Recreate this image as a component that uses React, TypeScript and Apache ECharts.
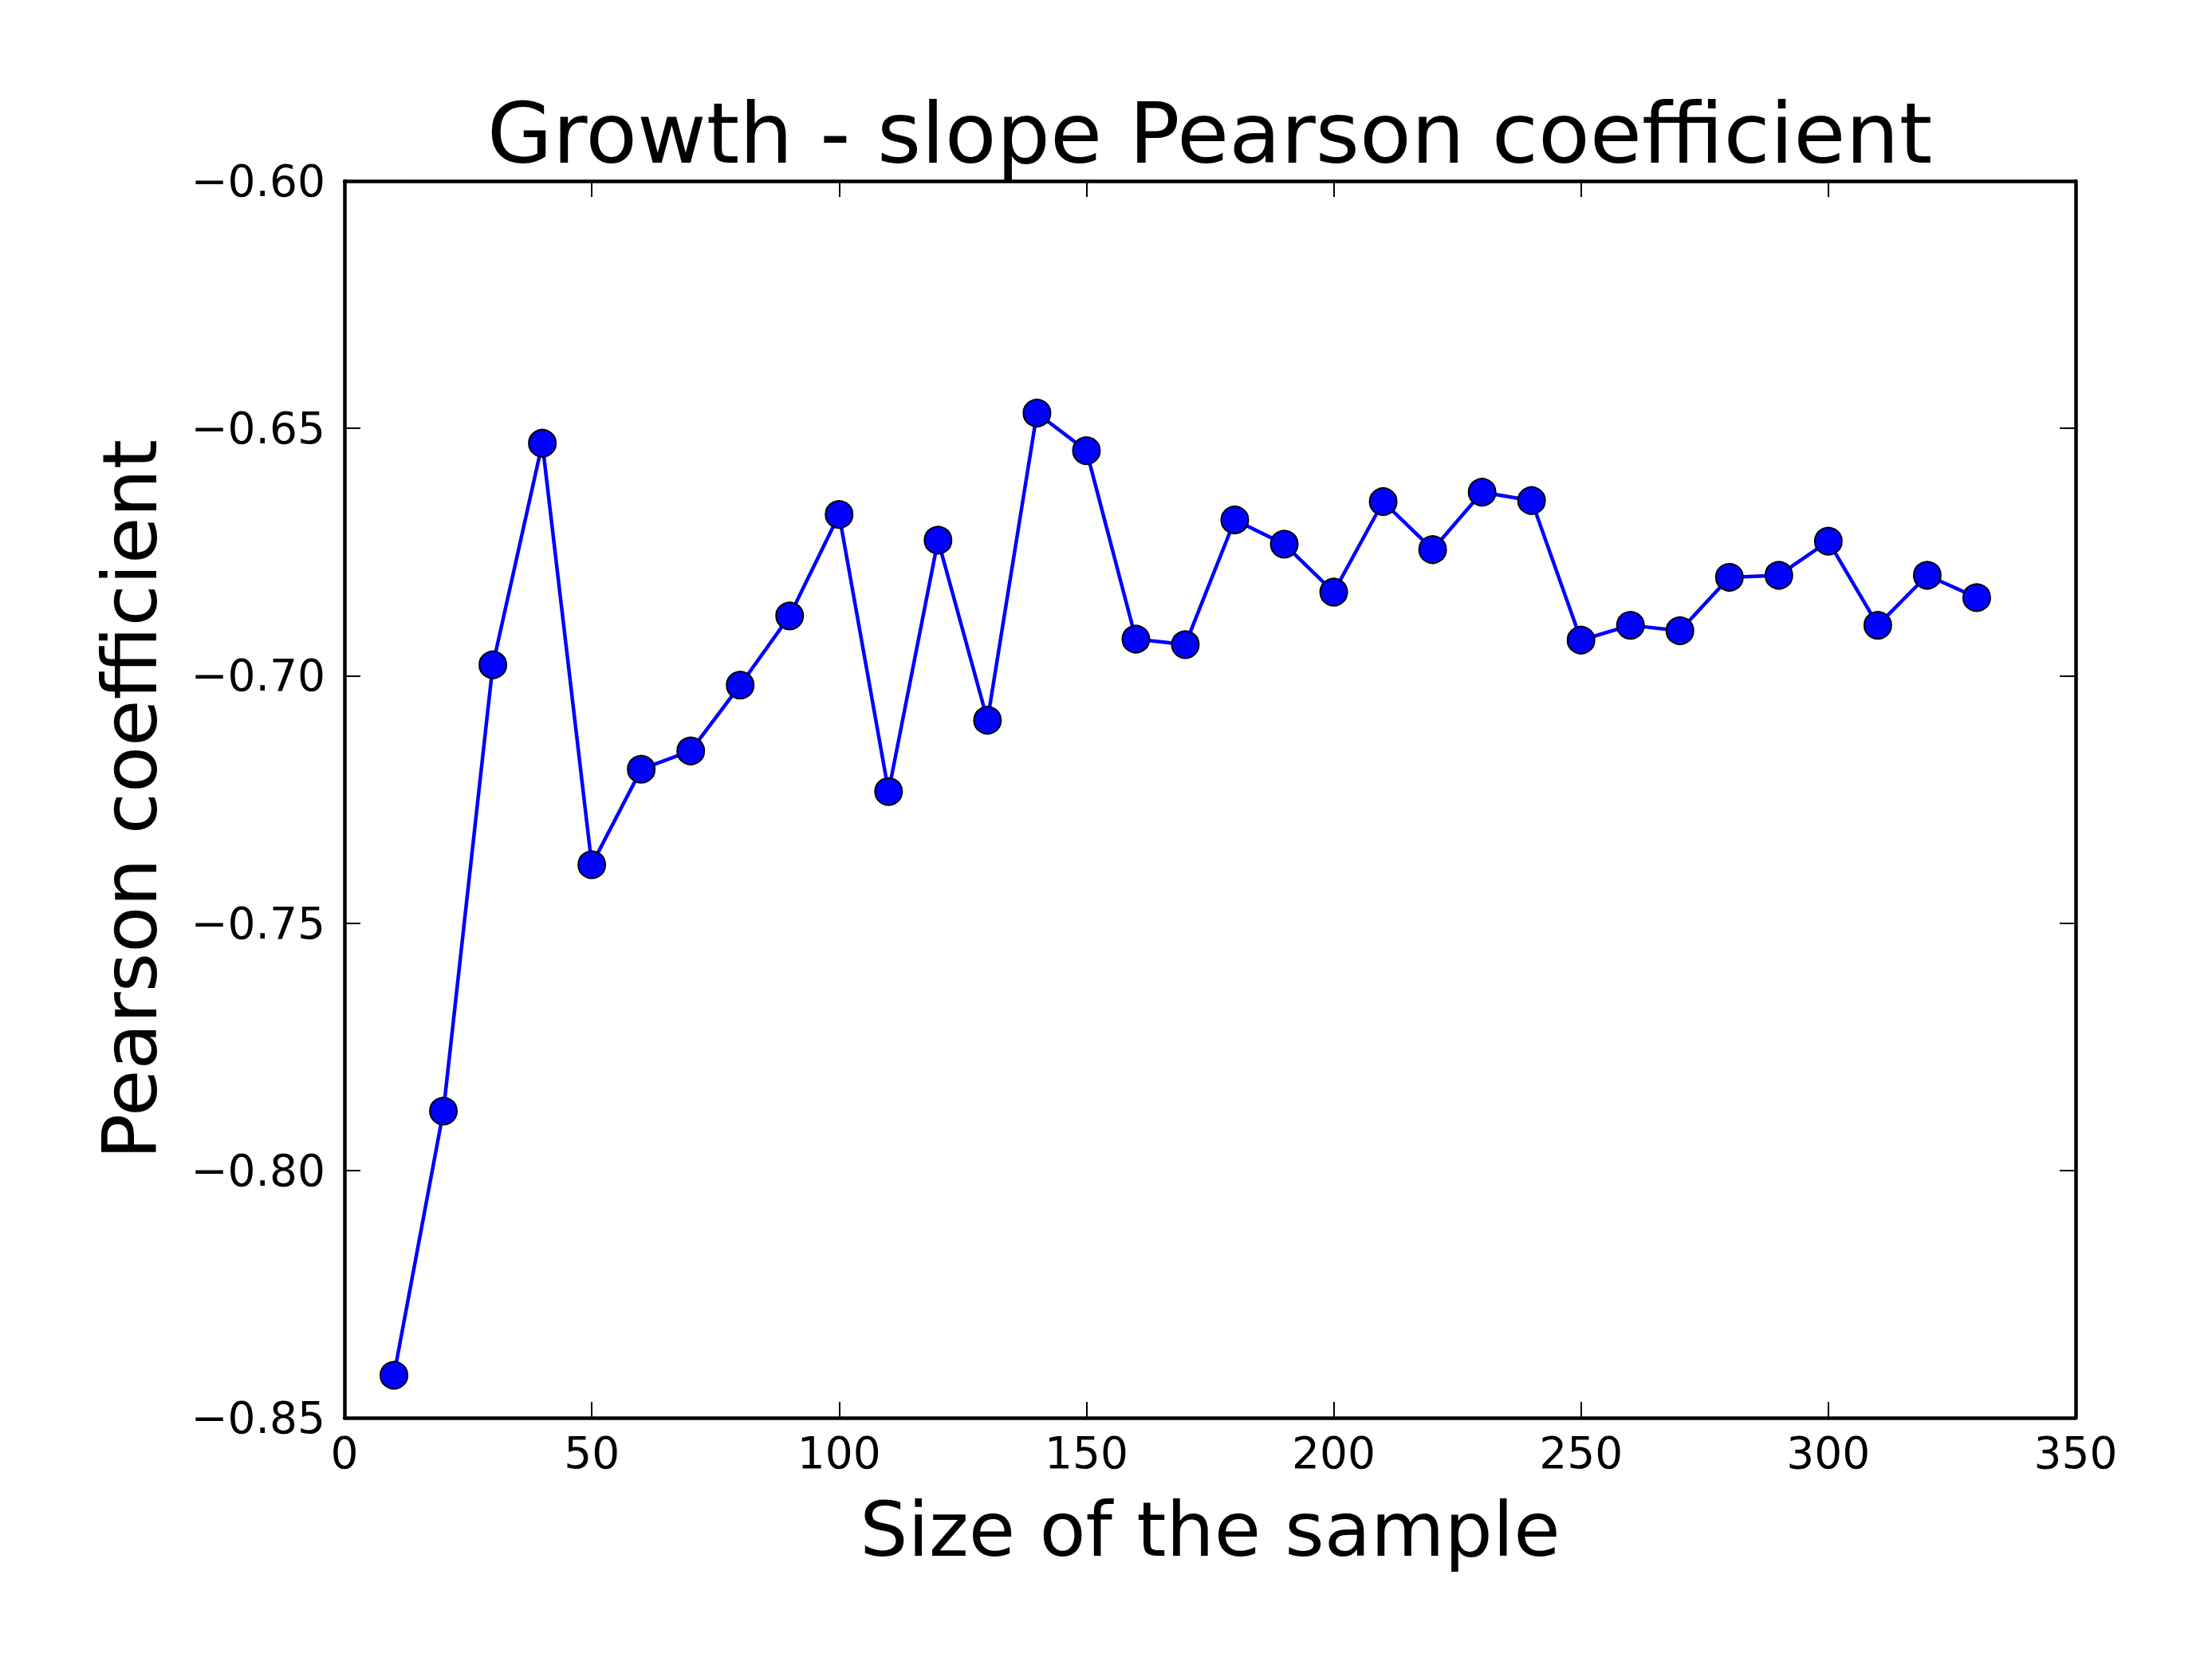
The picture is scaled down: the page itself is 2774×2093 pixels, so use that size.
import React, { useEffect, useRef } from "react";
import * as echarts from "echarts";

const sampleSizes = [10, 20, 30, 40, 50, 60, 70, 80, 90, 100, 110, 120, 130, 140, 150, 160, 170, 180, 190, 200, 210, 220, 230, 240, 250, 260, 270, 280, 290, 300, 310, 320, 330];
const pearson = [-0.8414, -0.788, -0.6978, -0.653, -0.7382, -0.7189, -0.7152, -0.7019, -0.6879, -0.6674, -0.7234, -0.6726, -0.709, -0.6469, -0.6545, -0.6926, -0.6937, -0.6685, -0.6734, -0.6831, -0.6648, -0.6745, -0.6629, -0.6646, -0.6928, -0.6898, -0.6909, -0.6801, -0.6797, -0.6728, -0.6898, -0.6797, -0.6842];

const titleText = "Growth - slope Pearson coefficient";
const xName = "Size of the sample";
const yName = "Pearson coefficient";

const FONT = "DejaVu Sans";

const fmtY = (v: number) => (v < 0 ? "\u2212" : "") + Math.abs(v).toFixed(2);

export default function App() {
  const ref = useRef<HTMLDivElement>(null);
  useEffect(() => {
    document.body.style.margin = "0";
    const chart = echarts.init(ref.current!, undefined, { renderer: "svg" });
    const tick = { show: true, inside: true, length: 20, lineStyle: { color: "#000", width: 2 } };
    const line = { show: true, onZero: false, lineStyle: { color: "#000", width: 4.5 } };
    const label = { fontFamily: FONT, fontSize: 55, color: "#000" };
    chart.setOption({
      animation: false,
      backgroundColor: "#fff",
      grid: { left: 432, right: 171, top: 227, bottom: 315, containLabel: false },
      graphic: [
        {
          type: "text",
          x: 1517,
          y: 220,
          style: {
            text: titleText,
            fontFamily: FONT,
            fontSize: 106,
            fill: "#000",
            align: "center",
            verticalAlign: "bottom",
          },
        },
      ],
      xAxis: [
        {
          type: "value",
          min: 0,
          max: 350,
          interval: 50,
          position: "bottom",
          axisLine: line,
          axisTick: tick,
          splitLine: { show: false },
          axisLabel: { ...label, margin: 16 },
          name: xName,
          nameLocation: "middle",
          nameGap: 92,
          nameTextStyle: { fontFamily: FONT, fontSize: 95, color: "#000" },
        },
        {
          type: "value",
          min: 0,
          max: 350,
          interval: 50,
          position: "top",
          axisLine: line,
          axisTick: tick,
          splitLine: { show: false },
          axisLabel: { show: false },
        },
      ],
      yAxis: [
        {
          type: "value",
          min: -0.85,
          max: -0.6,
          interval: 0.05,
          position: "left",
          axisLine: line,
          axisTick: tick,
          splitLine: { show: false },
          axisLabel: { ...label, margin: 24, formatter: fmtY },
          name: yName,
          nameLocation: "middle",
          nameRotate: 90,
          nameGap: 222,
          nameTextStyle: { fontFamily: FONT, fontSize: 95, color: "#000" },
        },
        {
          type: "value",
          min: -0.85,
          max: -0.6,
          interval: 0.05,
          position: "right",
          axisLine: line,
          axisTick: tick,
          splitLine: { show: false },
          axisLabel: { show: false },
        },
      ],
      series: [
        {
          type: "line",
          data: sampleSizes.map((x, i) => [x, pearson[i]]),
          xAxisIndex: 0,
          yAxisIndex: 0,
          symbol: "circle",
          symbolSize: 34,
          showAllSymbol: true,
          lineStyle: { color: "#0000ff", width: 4.5 },
          itemStyle: { color: "#0000ff", borderColor: "#000", borderWidth: 2 },
          z: 3,
        },
      ],
    });
    return () => chart.dispose();
  }, []);
  return <div ref={ref} style={{ width: 2774, height: 2093 }} />;
}
